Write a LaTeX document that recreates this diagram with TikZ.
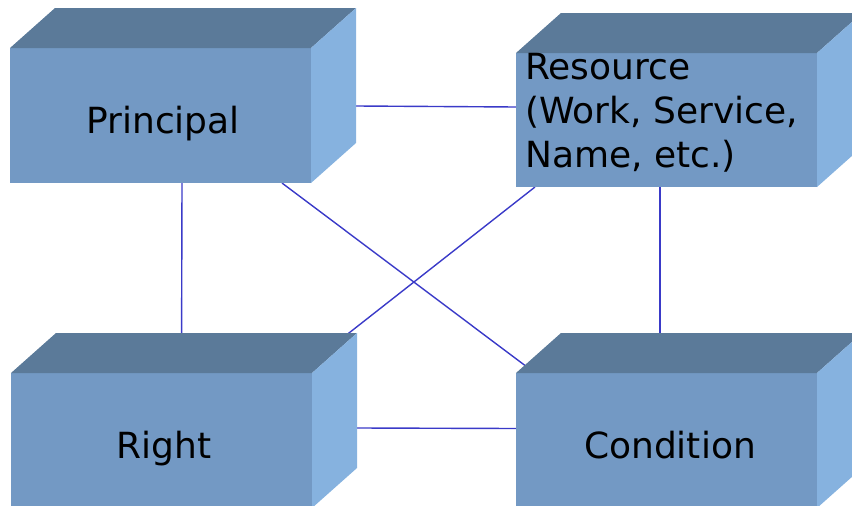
\documentclass[tikz,border=0pt]{standalone}
\usepackage{fontspec}
\setmainfont{DejaVu Sans}
\usetikzlibrary{calc}
\pgfdeclarelayer{bg}
\pgfsetlayers{bg,main}
\definecolor{frontc}{HTML}{7399C4}
\definecolor{topc}{HTML}{5B7A99}
\definecolor{sidec}{HTML}{86B2DF}
\definecolor{linec}{HTML}{3A3AC8}
\tikzset{
  front/.style={fill=frontc, draw=none, minimum width=301pt, minimum height=135pt,
                inner sep=0pt, outer sep=0pt, anchor=north west},
  topface/.style={fill=topc},
  sideface/.style={fill=sidec},
  link/.style={draw=linec, line width=1.4pt},
  lbl/.style={font=\fontsize{36}{44}\selectfont, inner sep=0pt, anchor=base},
  lblw/.style={font=\fontsize{36}{44}\selectfont, inner sep=0pt, anchor=base west},
}
\newcommand\mycuboid[1]{%
  \fill[topface] (#1.north west) -- ++(45,-40) -- ($(#1.north east)+(45,-40)$) -- (#1.north east) -- cycle;
  \fill[sideface] (#1.north east) -- ++(45,-40) -- ($(#1.south east)+(45,-40)$) -- (#1.south east) -- cycle;
}
\begin{document}
\begin{tikzpicture}[x=1pt,y=-1pt]
\useasboundingbox (0,0) rectangle (852,506);
\clip (0,0) rectangle (852,506);
% front faces
\node[front] (P) at (10,48) {};
\node[front, minimum height=134pt] (Rs) at (516,53) {};
\node[front] (Rt) at (11,373) {};
\node[front] (C) at (516,373) {};
\mycuboid{P}
\mycuboid{Rs}
\mycuboid{Rt}
\mycuboid{C}
% labels
\node[lbl] (Pl) at (163,133) {Principal};
\node[lbl] (Rtl) at (164,458) {Right};
\node[lbl] (Cl) at (670,458) {Condition};
\node[lblw] (Rs1) at (525,79) {Resource};
\node[lblw] (Rs2) at (525,123) {(Work, Service,};
\node[lblw] (Rs3) at (525,167) {Name, etc.)};
% connectors
\begin{pgfonlayer}{bg}
\draw[link] ([shift={(45,-9.5)}]P.east) -- ([shift={(0,-13)}]Rs.west);
\draw[link] ([shift={(21.5,0)}]P.south) -- ([shift={(20,0)}]Rt.north);
\draw[link] ([shift={(272,0)}]P.south west) -- ([shift={(19,0)}]C.north west);
\draw[link] ([shift={(19,0)}]Rs.south west) -- ([shift={(-14,0)}]Rt.north east);
\draw[link] ([shift={(-6.5,0)}]Rs.south) -- ([shift={(-6.5,0)}]C.north);
\draw[link] ([shift={(45,-12.5)}]Rt.east) -- ([shift={(0,-12)}]C.west);
\end{pgfonlayer}
\end{tikzpicture}
\end{document}
